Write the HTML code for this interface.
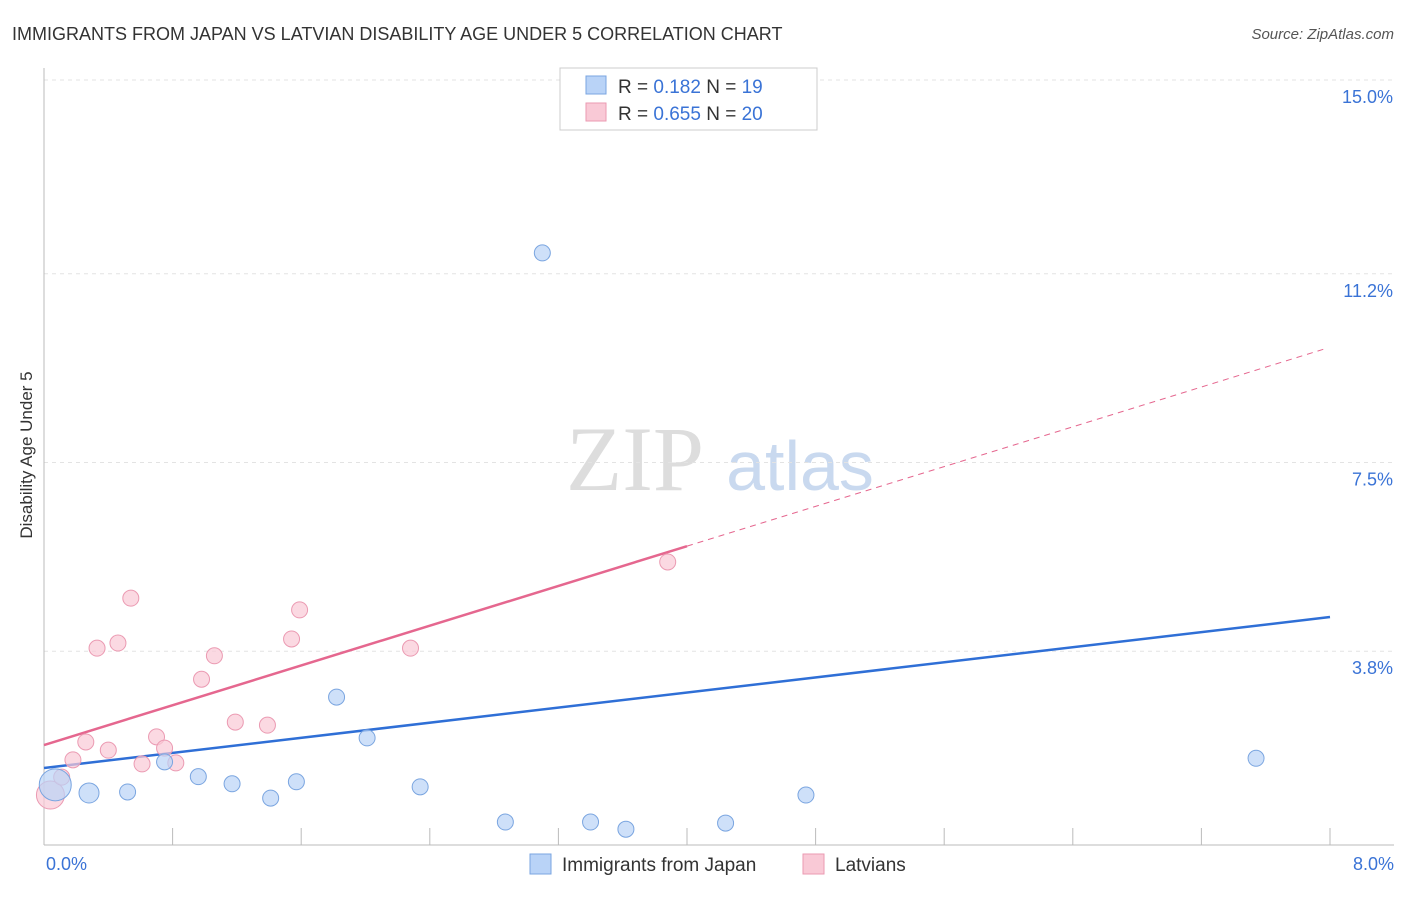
<!DOCTYPE html>
<html><head><meta charset="utf-8"><style>
body{margin:0;background:#fff;font-family:"Liberation Sans",sans-serif}
</style></head><body>
<svg id="c" width="1406" height="892" xmlns="http://www.w3.org/2000/svg">
<text x="12" y="40" font-size="18" fill="#333">IMMIGRANTS FROM JAPAN VS LATVIAN DISABILITY AGE UNDER 5 CORRELATION CHART</text>
<text x="1394" y="39" font-size="15" fill="#555" font-style="italic" text-anchor="end">Source: ZipAtlas.com</text>
<text x="32" y="455" font-size="17" fill="#333" text-anchor="middle" transform="rotate(-90 32 455)">Disability Age Under 5</text>
<g><text x="635" y="490" font-size="92" fill="#ddd" font-family="Liberation Serif" text-anchor="middle">ZIP</text><text x="800" y="490" font-size="70" fill="#c9d9ef" text-anchor="middle">atlas</text></g>
<g id="grid"></g><g id="marks"></g>
<g>
<rect x="560" y="68" width="257" height="62" fill="#fff" stroke="#ccc"/>
<rect x="586" y="76" width="20" height="18" fill="#b9d3f7" stroke="#7aa5e0"/>
<text x="618" y="93" font-size="19" fill="#333">R = <tspan fill="#3a73d6"> 0.182</tspan>   N = <tspan fill="#3a73d6"> 19</tspan></text>
<rect x="586" y="103" width="20" height="18" fill="#f9c9d6" stroke="#eb9ab2"/>
<text x="618" y="120" font-size="19" fill="#333">R = <tspan fill="#3a73d6">0.655</tspan>   N = <tspan fill="#3a73d6">20</tspan></text>
</g>
<g>
<rect x="530" y="854" width="21" height="20" fill="#b9d3f7" stroke="#7aa5e0"/>
<text x="562" y="871" font-size="19" fill="#333">Immigrants from Japan</text>
<rect x="803" y="854" width="21" height="20" fill="#f9c9d6" stroke="#eb9ab2"/>
<text x="835" y="871" font-size="19" fill="#333">Latvians</text>
</g>
</svg>
<script>
const yTicks=[3.8,7.5,11.2,15.0];
const yTickLabels=["3.8%","7.5%","11.2%","15.0%"];
const xTickLabels=["0.0%","8.0%"];
const japanX=[0.07,0.28,0.52,0.75,0.96,1.17,1.41,1.57,1.82,2.01,2.34,2.87,3.10,3.40,3.62,4.24,4.74,7.54];
const japanY=[1.18,1.02,1.04,1.63,1.34,1.20,0.92,1.24,2.90,2.10,1.14,0.45,11.61,0.45,0.31,0.43,0.98,1.70];
const latX=[0.04,0.11,0.18,0.26,0.33,0.40,0.46,0.54,0.61,0.70,0.75,0.82,0.98,1.06,1.19,1.39,1.54,1.59,2.28,3.88];
const latY=[0.98,1.33,1.67,2.02,3.86,1.86,3.96,4.84,1.59,2.12,1.90,1.61,3.25,3.71,2.41,2.35,4.04,4.61,3.86,5.55];
const japanTrend=[1.51,4.47];
const latTrend=[1.96,5.86,9.76];
const X=v=>44+v/8*1286, Y=v=>845-v*51;
const NS="http://www.w3.org/2000/svg";
function mk(t,a,p){const e=document.createElementNS(NS,t);for(const k in a)e.setAttribute(k,a[k]);p.appendChild(e);return e;}
const g=document.getElementById('grid'),m=document.getElementById('marks');
yTicks.forEach((t,i)=>{
 const l=mk('line',{x1:44,x2:1394,y1:Y(t),y2:Y(t),stroke:'#e3e3e3','stroke-dasharray':'4,4'},g);
 
 const tx=mk('text',{x:1393,y:Y(t)+23,'font-size':18,fill:'#3a73d6','text-anchor':'end'},g);tx.textContent=yTickLabels[i];
 
});
const topg=mk('line',{x1:44,x2:1394,y1:Y(15)-0,y2:Y(15),stroke:'#e3e3e3','stroke-dasharray':'4,4'},g);
mk('line',{x1:44,x2:44,y1:68,y2:845,stroke:'#bbb'},g);
mk('line',{x1:44,x2:1394,y1:845,y2:845,stroke:'#bbb'},g);
for(let i=1;i<=10;i++){const x=X(i*0.8);const t=mk('line',{x1:x,x2:x,y1:828,y2:845,stroke:'#bbb'},g);}
[[0,46,'start'],[8,1394,'end']].forEach((d,i)=>{const t=mk('text',{x:d[1],y:870,'font-size':18,fill:'#3a73d6','text-anchor':d[2]},g);t.textContent=xTickLabels[i];});
// trends
let tl=mk('line',{x1:X(0),y1:Y(japanTrend[0]),x2:X(8),y2:Y(japanTrend[1]),stroke:'#2f6fd6','stroke-width':2.5},m);

tl=mk('line',{x1:X(0),y1:Y(latTrend[0]),x2:X(4),y2:Y(latTrend[1]),stroke:'#e5678f','stroke-width':2.5},m);

tl=mk('line',{x1:X(4),y1:Y(latTrend[1]),x2:X(7.97),y2:Y(latTrend[1]+(latTrend[2]-latTrend[1])*3.97/4),stroke:'#e5678f','stroke-width':1,'stroke-dasharray':'6,5'},m);

latX.forEach((v,i)=>{const c=mk('circle',{cx:X(v),cy:Y(latY[i]),r:i==0?14:8,fill:'#f9c9d6','fill-opacity':0.7,stroke:'#eb9ab2','stroke-width':1},m);
 });
japanX.forEach((v,i)=>{const c=mk('circle',{cx:X(v),cy:Y(japanY[i]),r:i==0?16:(i==1?10:8),fill:'#b9d3f7','fill-opacity':0.7,stroke:'#7aa5e0','stroke-width':1},m);
 });
</script>
</body></html>
